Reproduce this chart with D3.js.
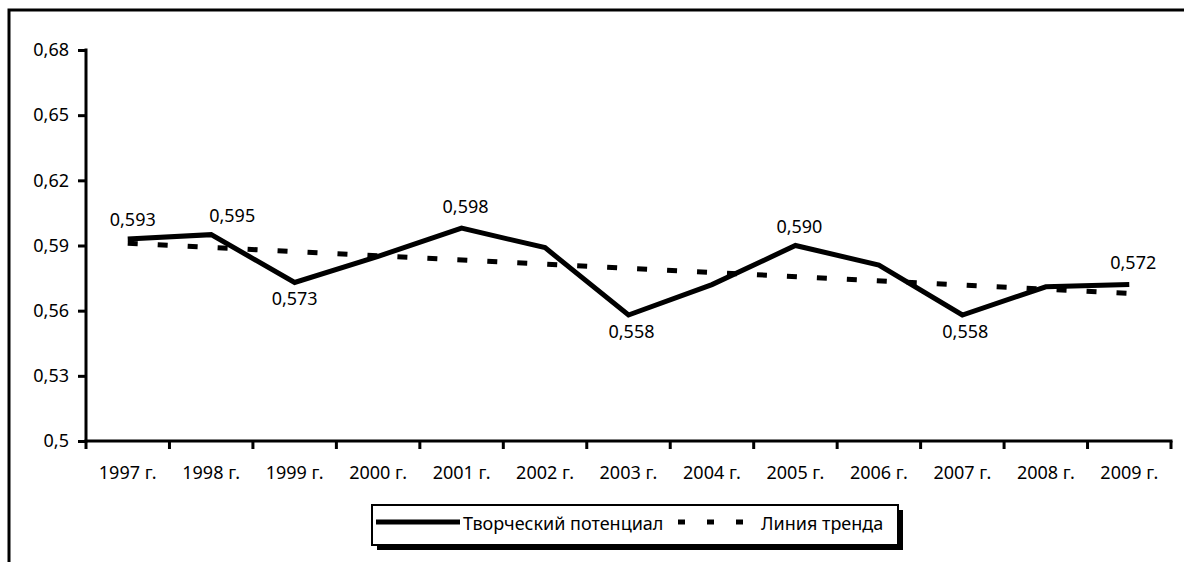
<!DOCTYPE html>
<html>
<head>
<meta charset="utf-8">
<script src="https://cdn.jsdelivr.net/npm/d3@7"></script>
<style>
  body { margin: 0; background: #fff; overflow: hidden; }
  text { font-family: "Noto Sans", "Open Sans", sans-serif; fill: #000; }
</style>
</head>
<body>
<div id="chart"></div>
<script>
// data
var years = ["1997 г.", "1998 г.", "1999 г.", "2000 г.", "2001 г.", "2002 г.", "2003 г.",
             "2004 г.", "2005 г.", "2006 г.", "2007 г.", "2008 г.", "2009 г."];
var potential = [0.593, 0.595, 0.573, 0.585, 0.598, 0.589, 0.558, 0.572, 0.590, 0.581, 0.558, 0.571, 0.572];
var trendEnds = [0.591, 0.568];           // trend line value at first and last year
var yTicks = [0.5, 0.53, 0.56, 0.59, 0.62, 0.65, 0.68];
var labelledYears = ["1997 г.", "1998 г.", "1999 г.", "2001 г.", "2003 г.", "2005 г.", "2007 г.", "2009 г."];
var seriesNames = ["Творческий потенциал", "Линия тренда"];

// label placement (layout only)
var labelPlace = {
    "1997 г.": { dx: 5, dy: -20 },
    "1998 г.": { dx: 21, dy: -20 },
    "1999 г.": { dx: 0, dy: 16 },
    "2001 г.": { dx: 4, dy: -22 },
    "2003 г.": { dx: 3, dy: 16 },
    "2005 г.": { dx: 4, dy: -20 },
    "2007 г.": { dx: 3, dy: 16 },
    "2009 г.": { dx: 4, dy: -23 }
};

var width = 1184, height = 562;
var fontSize = 18;
var svg = d3.select("#chart").append("svg")
    .attr("width", width)
    .attr("height", height);

// outer chart frame (runs off the right and bottom edges)
svg.append("rect")
    .attr("x", 9).attr("y", 10)
    .attr("width", 1200).attr("height", 600)
    .attr("fill", "none").attr("stroke", "#000").attr("stroke-width", 3);

var x = d3.scaleBand().domain(years).range([86, 1171]).padding(0);
var y = d3.scaleLinear().domain([0.5, 0.68]).range([441, 50]);
var cx = function (d) { return x(d) + x.bandwidth() / 2; };
var comma = function (s) { return String(s).replace(".", ","); };

// y axis
var yAxis = svg.append("g")
    .attr("transform", "translate(86,0)")
    .call(d3.axisLeft(y).tickValues(yTicks).tickSize(8).tickPadding(9)
        .tickFormat(function (d) { return comma(d); }));
yAxis.select(".domain").remove();
yAxis.selectAll(".tick line").attr("stroke-width", 3);
yAxis.selectAll("text").attr("font-size", fontSize).attr("font-family", null);
svg.append("line")
    .attr("x1", 86).attr("x2", 86)
    .attr("y1", y(0.68) - 1.5).attr("y2", y(0.5) + 1.5)
    .attr("stroke", "#000").attr("stroke-width", 3);

// x axis: labels centred in bands, ticks on band boundaries
var xAxis = svg.append("g")
    .attr("transform", "translate(0," + y(0.5) + ")")
    .call(d3.axisBottom(x).tickSize(0).tickPadding(25));
xAxis.select(".domain").remove();
xAxis.selectAll("text").attr("font-size", fontSize).attr("font-family", null);
var bounds = years.map(function (d) { return x(d); }).concat([x(years[years.length - 1]) + x.bandwidth()]);
svg.append("g").selectAll("line").data(bounds).enter().append("line")
    .attr("x1", function (d) { return d; }).attr("x2", function (d) { return d; })
    .attr("y1", y(0.5)).attr("y2", y(0.5) + 8)
    .attr("stroke", "#000").attr("stroke-width", 3);
svg.append("line")
    .attr("x1", 84.5).attr("x2", bounds[bounds.length - 1] + 1.5)
    .attr("y1", y(0.5)).attr("y2", y(0.5))
    .attr("stroke", "#000").attr("stroke-width", 3);

// trend line
svg.append("line")
    .attr("x1", cx(years[0])).attr("y1", y(trendEnds[0]))
    .attr("x2", cx(years[years.length - 1])).attr("y2", y(trendEnds[1]))
    .attr("stroke", "#000").attr("stroke-width", 5)
    .attr("stroke-dasharray", "10,20");

// main series
var line = d3.line()
    .x(function (d, i) { return cx(years[i]); })
    .y(function (d) { return y(d); });
svg.append("path")
    .datum(potential)
    .attr("d", line)
    .attr("fill", "none").attr("stroke", "#000").attr("stroke-width", 5)
    .attr("stroke-linejoin", "miter");

// data labels
svg.append("g").selectAll("text").data(labelledYears).enter().append("text")
    .attr("x", function (d) { return cx(d) + labelPlace[d].dx; })
    .attr("y", function (d) { return y(potential[years.indexOf(d)]) + labelPlace[d].dy; })
    .attr("text-anchor", "middle")
    .attr("dominant-baseline", "central")
    .attr("font-size", fontSize)
    .text(function (d) { return comma(d3.format(".3f")(potential[years.indexOf(d)])); });

// legend
var lg = svg.append("g");
lg.append("rect").attr("x", 377).attr("y", 510).attr("width", 526).attr("height", 40).attr("fill", "#000");
lg.append("rect").attr("x", 372).attr("y", 505).attr("width", 526).attr("height", 40)
    .attr("fill", "#fff").attr("stroke", "#000").attr("stroke-width", 2);
lg.append("line").attr("x1", 376).attr("x2", 460).attr("y1", 522).attr("y2", 522)
    .attr("stroke", "#000").attr("stroke-width", 5);
lg.append("text").attr("x", 463).attr("y", 523).attr("dominant-baseline", "central")
    .attr("font-size", fontSize).text(seriesNames[0]);
lg.append("line").attr("x1", 678).attr("x2", 746).attr("y1", 522).attr("y2", 522)
    .attr("stroke", "#000").attr("stroke-width", 5).attr("stroke-dasharray", "7,22");
lg.append("text").attr("x", 761).attr("y", 523).attr("dominant-baseline", "central")
    .attr("font-size", fontSize).text(seriesNames[1]);
</script>
</body>
</html>
